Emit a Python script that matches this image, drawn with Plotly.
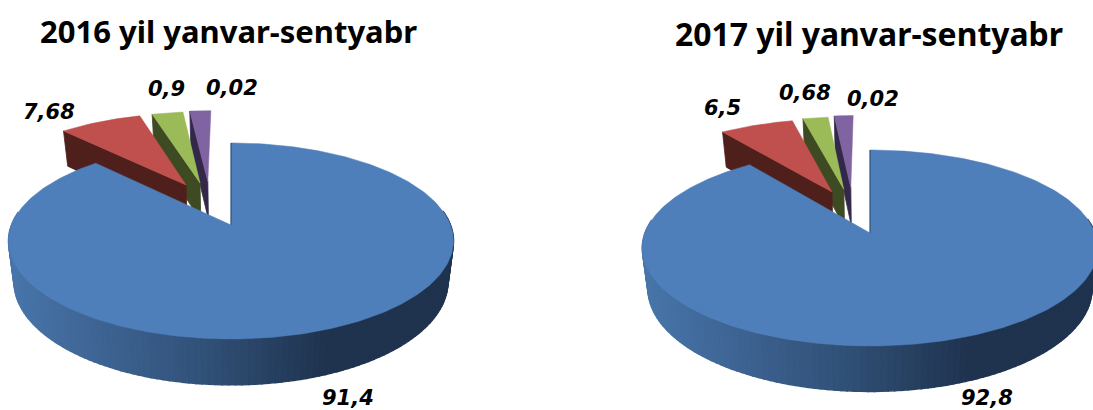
import math
import plotly.graph_objects as go

# Data
titles = ["2016 yil yanvar-sentyabr", "2017 yil yanvar-sentyabr"]
slice_labels_2016 = ["91,4", "7,68", "0,9", "0,02"]
slice_labels_2017 = ["92,8", "6,5", "0,68", "0,02"]
# slice shares as they are drawn in the picture (%)
drawn_shares_2016 = [87.9, 7.4, 2.8, 1.9]
drawn_shares_2017 = [89.75, 6.4, 2.2, 1.65]

# Styling / geometry
TOP = ["#4E7FBB", "#C0504D", "#9BBB59", "#8064A2"]
CUT = [None, "#4F1F1C", "#3E4A22", "#33284A"]
SIDE_STOPS = [(0.0, (72, 118, 170)), (0.2, (62, 100, 148)), (0.45, (48, 80, 118)),
              (0.72, (31, 51, 79)), (1.0, (31, 51, 79))]
PIES = [
    dict(x0=231, y0=225, a=95.4, b=219.5, k=0.163,
         shift=[(0, 0), (-0.22, 0.45), (-0.152, 0.474), (-0.114, 0.49)],
         shares=drawn_shares_2016, labels=slice_labels_2016, title=titles[0],
         title_xy=(228, 31), title_size=31,
         label_xy=[(348, 398), (49, 112), (166, 89), (232, 88)]),
    dict(x0=870, y0=233, a=95.7, b=225, k=0.153,
         shift=[(0, 0), (-0.181, 0.459), (-0.125, 0.49), (-0.092, 0.51)],
         shares=drawn_shares_2017, labels=slice_labels_2017, title=titles[1],
         title_xy=(869, 33), title_size=31.9,
         label_xy=[(987, 398), (722, 108), (805, 93), (873, 99)]),
]


def project(p, u, v, bottom=False):
    w = 1 + p["k"] * v
    x = p["b"] * u / w
    y = p["y0"] - p["a"] * v / w
    if bottom:
        return p["x0"] + x * 0.975, y + 10 + 30 / w
    return p["x0"] + x, y


def arc(p, start, end, shift=(0, 0), bottom=False, step=1.0):
    n = max(2, int(abs(end - start) / step))
    pts = []
    for i in range(n + 1):
        t = math.radians(start + (end - start) * i / n)
        pts.append(project(p, shift[0] + math.sin(t), shift[1] + math.cos(t), bottom))
    return pts


def poly(fig, pts, fill, width=0.8):
    xs = [q[0] for q in pts] + [pts[0][0]]
    ys = [q[1] for q in pts] + [pts[0][1]]
    fig.add_trace(go.Scatter(x=xs, y=ys, mode="lines", fill="toself", fillcolor=fill,
                             line=dict(color=fill, width=width), hoverinfo="skip",
                             showlegend=False))


def side_colour(f):
    for (f0, c0), (f1, c1) in zip(SIDE_STOPS, SIDE_STOPS[1:]):
        if f <= f1:
            m = (f - f0) / (f1 - f0)
            return "rgb(%d,%d,%d)" % tuple(round(c0[i] + (c1[i] - c0[i]) * m) for i in range(3))
    return "rgb(31,51,79)"


fig = go.Figure()
for p in PIES:
    # slice limits, clockwise from 12 o'clock
    edges = [0]
    for s in p["shares"]:
        edges.append(edges[-1] + 360 * s / sum(p["shares"]))

    # exploded slices, back to front
    for i in (3, 2, 1):
        sh = p["shift"][i]
        a0, a1 = edges[i], edges[i + 1]
        apex_t = project(p, sh[0], sh[1])
        apex_b = project(p, sh[0], sh[1], True)
        t = math.radians(a0)
        out_t = project(p, sh[0] + math.sin(t), sh[1] + math.cos(t))
        out_b = project(p, sh[0] + math.sin(t), sh[1] + math.cos(t), True)
        poly(fig, [apex_t, out_t, out_b, apex_b], CUT[i])
        poly(fig, [apex_t] + arc(p, a0, a1, sh), TOP[i], 0.5)

    # big slice: shaded rim, then top face
    span = 2 * p["b"]
    d = 278.0
    while d > 82:
        strip = arc(p, d, d - 1.5, bottom=False) + arc(p, d - 1.5, d, bottom=True)
        xm = sum(q[0] for q in strip) / len(strip)
        poly(fig, strip, side_colour(max(0, min(1, (xm - p["x0"] + span / 2) / span))), 1.5)
        d -= 1.5
    apex = project(p, 0, 0)
    poly(fig, [apex] + arc(p, 0, edges[1]), TOP[0], 0.5)
    rim0 = project(p, 0, 1)
    fig.add_trace(go.Scatter(x=[apex[0], rim0[0]], y=[apex[1], rim0[1]], mode="lines",
                             line=dict(color="#2A4A70", width=1), hoverinfo="skip",
                             showlegend=False))

    fig.add_annotation(x=p["title_xy"][0], y=p["title_xy"][1], text="<b>%s</b>" % p["title"],
                       showarrow=False, xanchor="center", yanchor="middle",
                       font=dict(family="Noto Sans", size=p["title_size"], color="#000000"))
    for lab, (lx, ly) in zip(p["labels"], p["label_xy"]):
        fig.add_annotation(x=lx, y=ly, text="<b><i>%s</i></b>" % lab, showarrow=False,
                           xanchor="center", yanchor="middle",
                           font=dict(family="DejaVu Sans", size=21, color="#000000"))

fig.update_layout(width=1093, height=410, margin=dict(l=0, r=0, t=0, b=0),
                  paper_bgcolor="white", plot_bgcolor="white", showlegend=False,
                  xaxis=dict(range=[0, 1093], visible=False, fixedrange=True),
                  yaxis=dict(range=[410, 0], visible=False, fixedrange=True))
fig.write_html("out.html", config={"displayModeBar": False},
               post_script="document.body.style.margin='0';document.body.style.overflow='hidden';")
